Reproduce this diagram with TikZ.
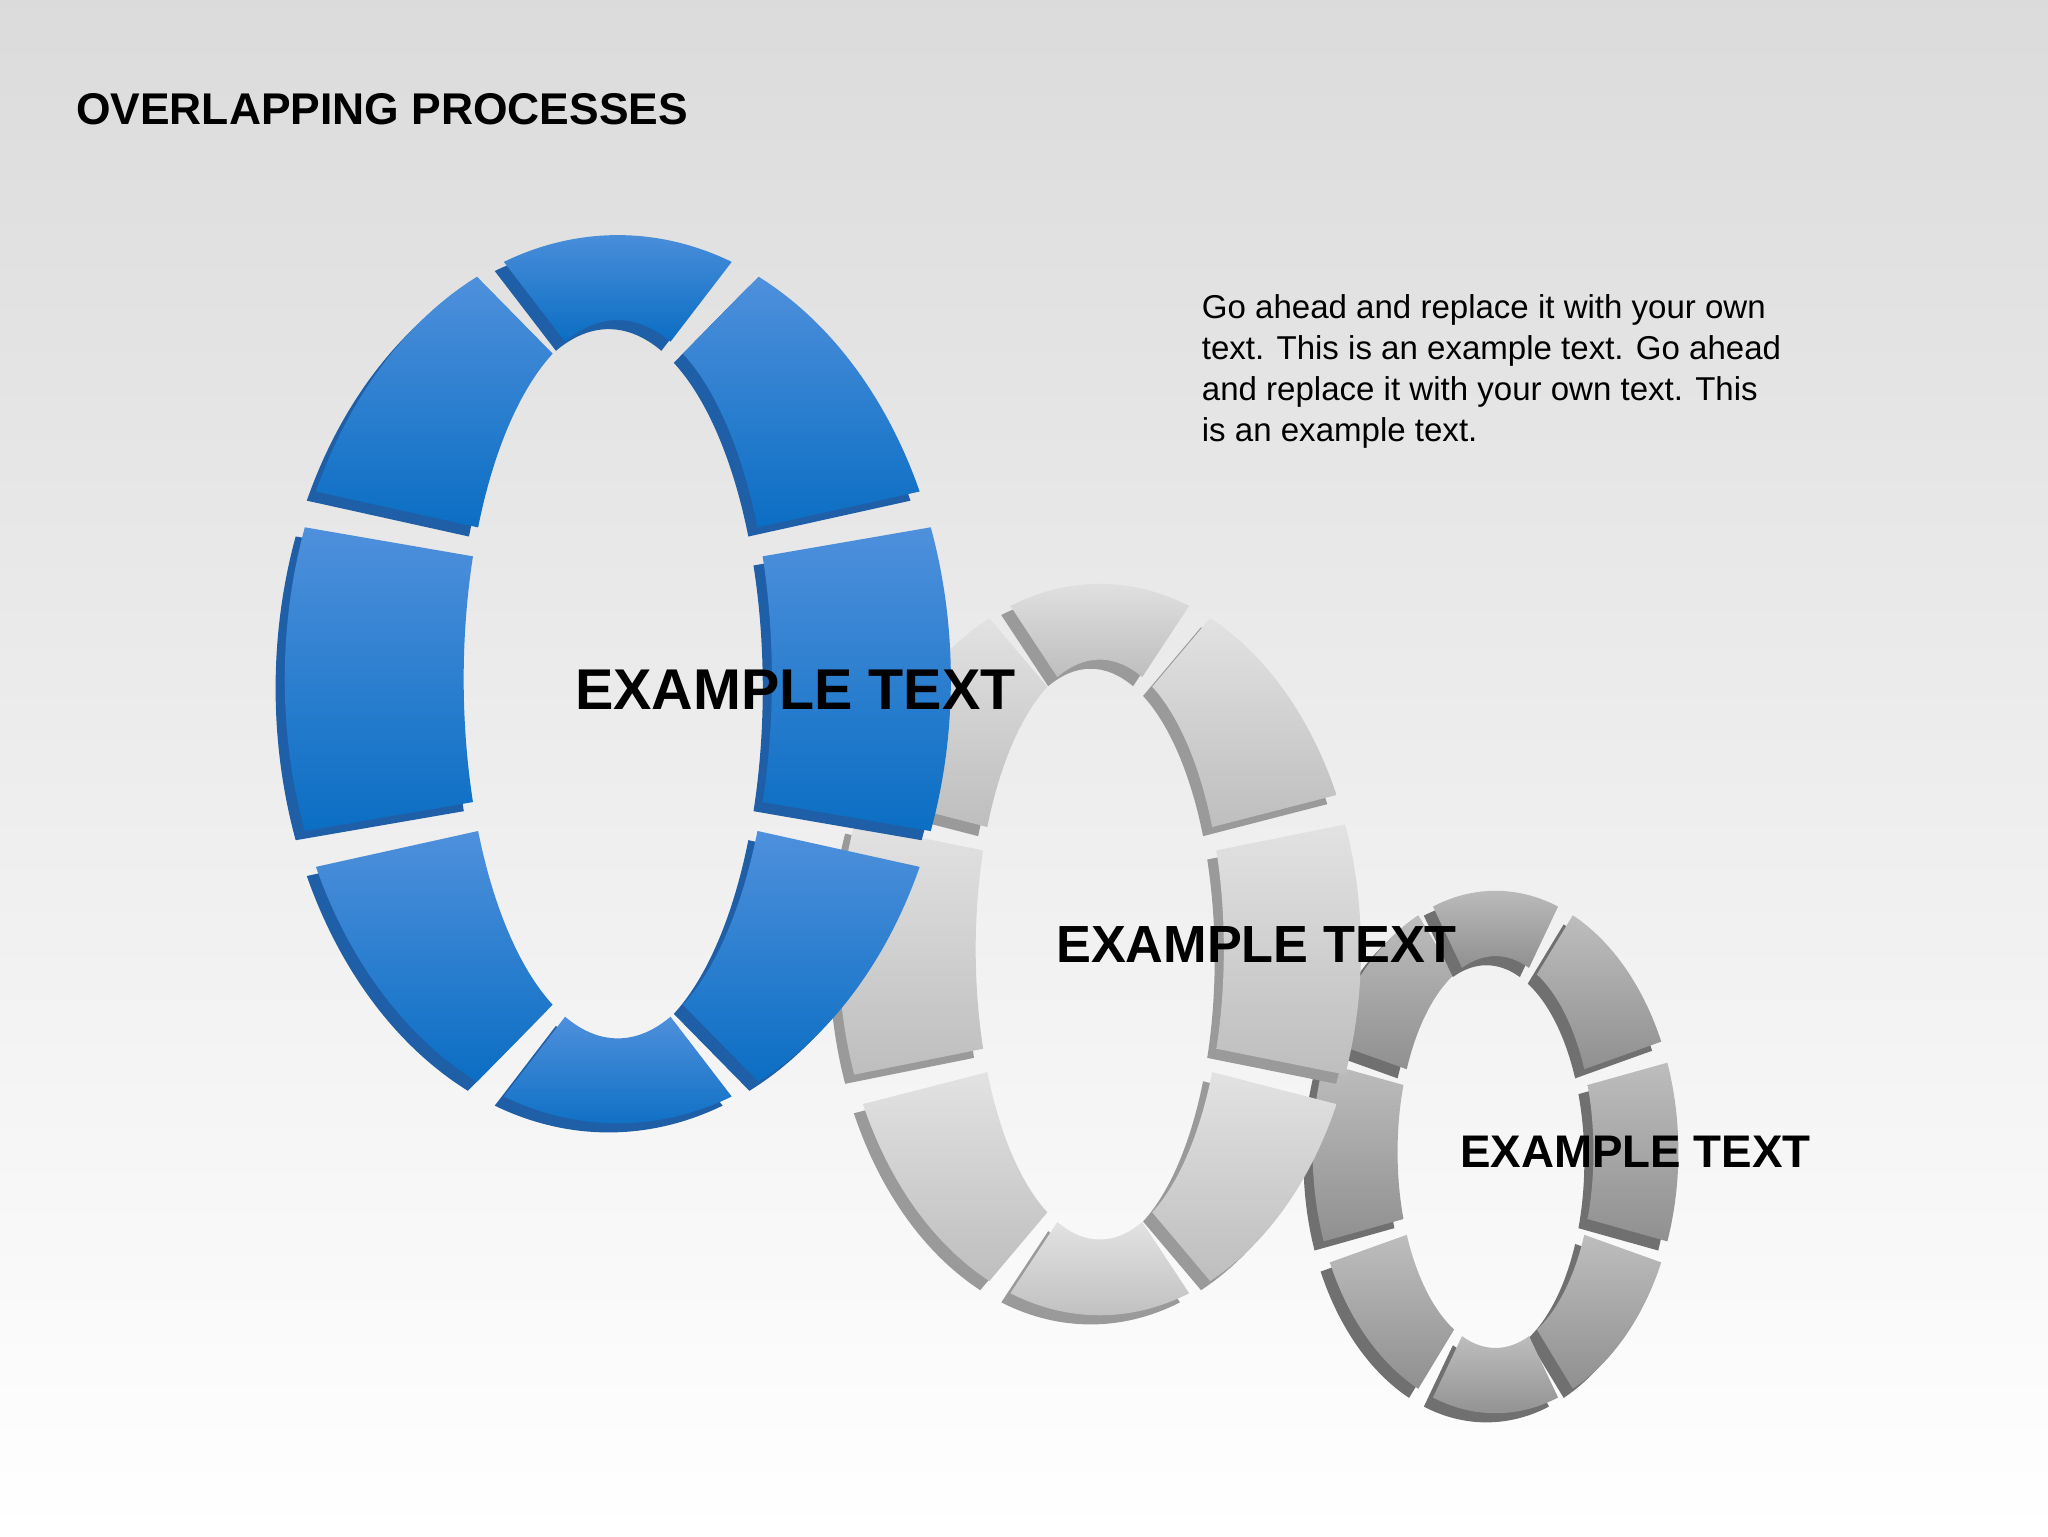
\documentclass[tikz,border=0pt]{standalone}
\usepackage{fontspec}
\setmainfont{Liberation Sans}
\usetikzlibrary{calc}
\definecolor{bA}{HTML}{4E90DC}\definecolor{bB}{HTML}{0B6EC3}\definecolor{bS}{HTML}{1F5FA8}
\definecolor{gA}{HTML}{E2E2E2}\definecolor{gB}{HTML}{BEBEBE}\definecolor{gS}{HTML}{9A9A9A}
\definecolor{hA}{HTML}{BDBDBD}\definecolor{hB}{HTML}{909090}\definecolor{hS}{HTML}{707070}
\newcommand\myring[9]{%
 \foreach \k in {0,...,7}{
  \pgfmathsetmacro\a{\k*45-20}\pgfmathsetmacro\b{\k*45+20}
  \fill[#9] ($(#1,#2)+(\a:#3 and #4)+(-7,7)$) arc[start angle=\a,end angle=\b,x radius=#3,y radius=#4] -- ($(#1,#2)+(\b:#5 and #6)+(-7,7)$) arc[start angle=\b,end angle=\a,x radius=#5,y radius=#6] -- cycle;
  \shade[top color=#7,bottom color=#8] ($(#1,#2)+(\a:#3 and #4)$) arc[start angle=\a,end angle=\b,x radius=#3,y radius=#4] -- ($(#1,#2)+(\b:#5 and #6)$) arc[start angle=\b,end angle=\a,x radius=#5,y radius=#6] -- cycle;
 }}
\begin{document}
\begin{tikzpicture}[x=1pt,y=-1pt,
  big/.style={font=\bfseries\fontsize{44}{48}\selectfont,text=black,inner sep=0pt}]
\shade[top color=black!14,bottom color=white] (0,0) rectangle (1568,1176);
\useasboundingbox (0,0) rectangle (1568,1176);
\node[anchor=base west,font=\bfseries\fontsize{34}{38}\selectfont,inner sep=0pt] (title) at (58,95) {OVERLAPPING PROCESSES};
\node[anchor=north west,align=left,inner sep=0pt,font=\fontsize{25.3}{31.5}\selectfont] (body) at (920,225)
 {Go ahead and replace it with your own\\text. This is an example text. Go ahead\\and replace it with your own text. This\\is an example text.};
\myring{1145}{882}{140}{200}{75}{150}{hA}{hB}{hS}
\myring{842}{727}{200}{280}{95}{222}{gA}{gB}{gS}
\myring{473}{520}{255}{340}{118}{275}{bA}{bB}{bS}
\node[big] (t1) at (609,528) {EXAMPLE TEXT};
\node[big,font=\bfseries\fontsize{40}{44}\selectfont] (t2) at (962,723) {EXAMPLE TEXT};
\node[big,font=\bfseries\fontsize{35}{40}\selectfont] (t3) at (1252,882) {EXAMPLE TEXT};
\end{tikzpicture}
\end{document}
